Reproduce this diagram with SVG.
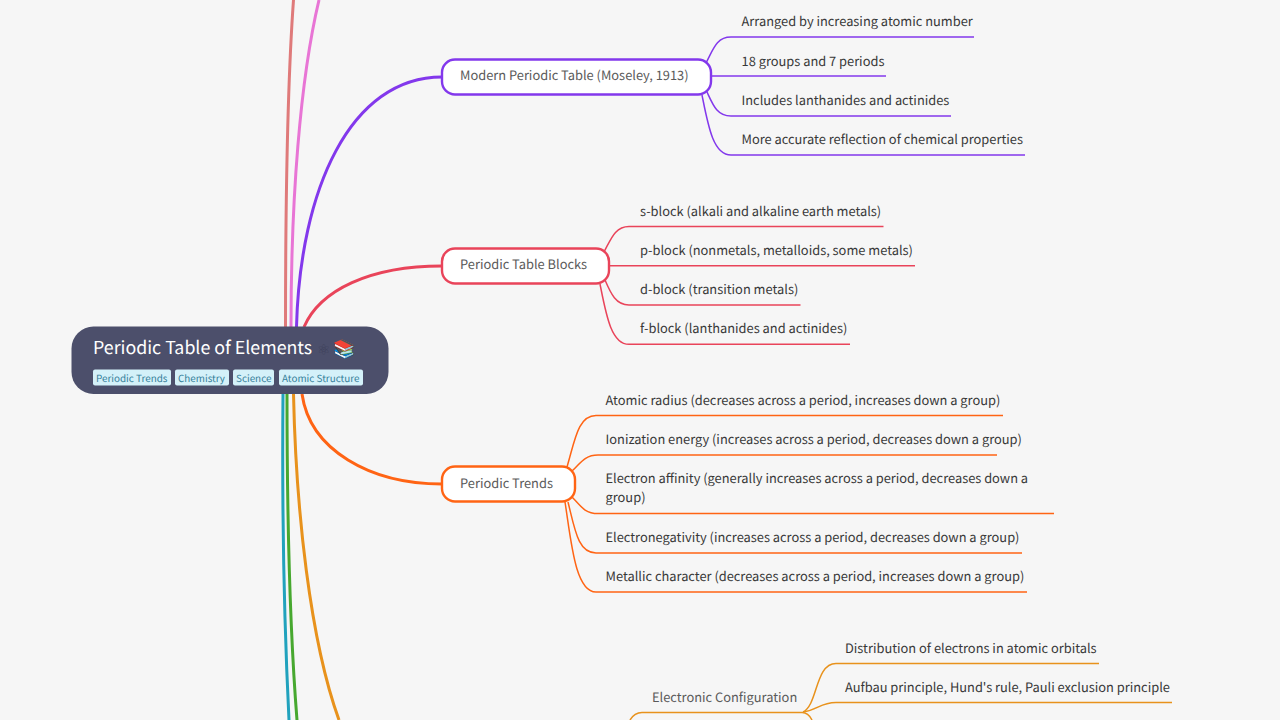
<svg xmlns="http://www.w3.org/2000/svg" width="1280" height="720" viewBox="0 0 1280 720">
<style>
text{font-family:"Noto Sans CJK SC","Noto Sans",sans-serif;text-rendering:geometricPrecision}
.t{font-size:12.85px;fill:#383838}
.b{font-size:12.85px;fill:#5a5a5a}
.n{fill:#fff;stroke-width:2.400}
.c{fill:none}
.m{stroke-width:3}
.l{stroke-width:1.5}
.tag{fill:#d4f1f9}
.tt{font-size:9.900px;fill:#35809a}
.p{stroke:#8338ec}.r{stroke:#e9445a}.o{stroke:#ff6414}.y{stroke:#e8921c}
</style>
<rect width="1280" height="720" fill="#f6f6f6"/>
<g id="connectors">
<path class="c m" stroke="#df7a7a" d="M285.500 327C285.500 200 287 90 293.500 0"/>
<path class="c m" stroke="#e875d5" d="M291 327C291 200 300 80 319 0"/>
<path class="c m" stroke="#21a2bd" d="M283 394C282 500 284 620 289 720"/>
<path class="c m" stroke="#47a82f" d="M287 394C287 500 289 620 297 720"/>
<path class="c m" stroke="#e8921c" d="M293.500 394C296 510 310 640 339 720"/>
<path class="c m p" d="M296.500 327C300 190 350 77 442 77"/>
<path class="c m r" d="M304 327C320 290 370 266 442 266"/>
<path class="c m o" d="M302 394C310 450 370 484 442 484"/>
<g class="l">
<path class="c p" d="M706 63C713 50 716 37 731 37H974"/>
<path class="c p" d="M711 76H886"/>
<path class="c p" d="M707 92C713 105 717 116 731 116H951"/>
<path class="c p" d="M702 95C708 125 713 155 731 155H1025"/>
<path class="c r" d="M604 252C611 239 615 226.500 629 226.500H883.500"/>
<path class="c r" d="M609 265.700H915"/>
<path class="c r" d="M605 280C611 294 616 305 629 305H800.500"/>
<path class="c r" d="M600 284C606 314 611 344.300 629 344.300H850"/>
<path class="c o" d="M567 467C575 440 578 415.500 596 415.500H1003"/>
<path class="c o" d="M572 471C580 464 584 455 598 455H997"/>
<path class="c o" d="M572 497C580 505 584 513.500 598 513.500H1054"/>
<path class="c o" d="M568 502C575 530 578 553 596 553H1022"/>
<path class="c o" d="M565 502C571 540 575 592 596 592H1027"/>
<path class="c y" d="M803 712C818 705 815 663.500 836 663.500H1099"/>
<path class="c y" d="M803 712C818 710 820 702.500 836 702.500H1172"/>
</g>
<path class="c y l" d="M630 720C633 715 637 712.500 642 712.500H802C806 712.500 810 716 812 720"/>
</g>
<g id="root">
<rect x="71.500" y="326.500" width="317" height="67.500" rx="22" fill="#4c4f6b"/>
<text x="93" y="354" font-size="17.800" fill="#fff">Periodic Table of Elements</text>
<text x="317" y="355" font-size="15" fill="#3d405a">⚛</text>
<text x="333" y="355" font-size="18" style="font-family:'Noto Color Emoji','Noto Sans CJK SC',sans-serif">📚</text>
<rect class="tag" x="93" y="369.500" width="78" height="16" rx="2"/><text class="tt" x="96" y="381.500">Periodic Trends</text>
<rect class="tag" x="175" y="369.500" width="54" height="16" rx="2"/><text class="tt" x="178" y="381.500">Chemistry</text>
<rect class="tag" x="233" y="369.500" width="41" height="16" rx="2"/><text class="tt" x="236" y="381.500">Science</text>
<rect class="tag" x="279" y="369.500" width="84" height="16" rx="2"/><text class="tt" x="282" y="381.500">Atomic Structure</text>
</g>
<g id="modern">
<rect class="n p" x="442" y="59.500" width="269" height="35" rx="13"/>
<text class="b" x="460" y="80">Modern Periodic Table (Moseley, 1913)</text>
<text class="t" x="741.500" y="26">Arranged by increasing atomic number</text>
<text class="t" x="741.500" y="66">18 groups and 7 periods</text>
<text class="t" x="741.500" y="105">Includes lanthanides and actinides</text>
<text class="t" x="741.500" y="144">More accurate reflection of chemical properties</text>
</g>
<g id="blocks">
<rect class="n r" x="442" y="248.500" width="167" height="35" rx="13"/>
<text class="b" x="460" y="269">Periodic Table Blocks</text>
<text class="t" x="640" y="216">s-block (alkali and alkaline earth metals)</text>
<text class="t" x="640" y="255">p-block (nonmetals, metalloids, some metals)</text>
<text class="t" x="640" y="294">d-block (transition metals)</text>
<text class="t" x="640" y="333">f-block (lanthanides and actinides)</text>
</g>
<g id="trends">
<rect class="n o" x="442" y="466.500" width="133" height="35" rx="13"/>
<text class="b" x="460" y="488">Periodic Trends</text>
<text class="t" x="605.500" y="405">Atomic radius (decreases across a period, increases down a group)</text>
<text class="t" x="605.500" y="444">Ionization energy (increases across a period, decreases down a group)</text>
<text class="t" x="605.500" y="483">Electron affinity (generally increases across a period, decreases down a</text>
<text class="t" x="605.500" y="502">group)</text>
<text class="t" x="605.500" y="542">Electronegativity (increases across a period, decreases down a group)</text>
<text class="t" x="605.500" y="581">Metallic character (decreases across a period, increases down a group)</text>
</g>
<g id="config">
<text class="b" x="652" y="702">Electronic Configuration</text>
<text class="t" x="845" y="653">Distribution of electrons in atomic orbitals</text>
<text class="t" x="845" y="692">Aufbau principle, Hund's rule, Pauli exclusion principle</text>
</g>
</svg>
